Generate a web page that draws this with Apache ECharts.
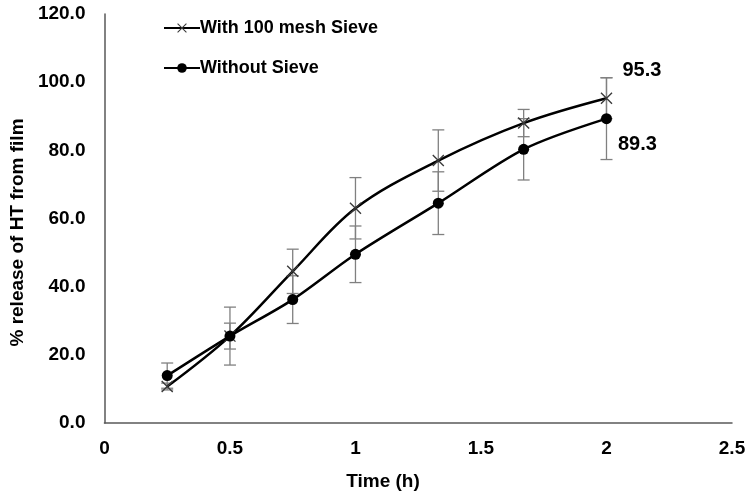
<!DOCTYPE html>
<html>
<head>
<meta charset="utf-8">
<script src="https://cdn.jsdelivr.net/npm/echarts@6/dist/echarts.min.js"></script>
<style>
html,body{margin:0;padding:0;background:#fff;}
#chart{width:750px;height:497px;}
</style>
</head>
<body>
<div id="chart"></div>
<script>
const times = [0.25, 0.5, 0.75, 1, 1.33, 1.67, 2];
const meshValues = [10.7, 25.5, 44.5, 63.0, 77.0, 88.0, 95.3];
const meshErrors = [1.0, 8.5, 6.5, 9.0, 9.0, 4.0, 6.0];
const noSieveValues = [13.9, 25.5, 36.2, 49.5, 64.5, 80.3, 89.3];
const noSieveErrors = [3.7, 3.8, 7.0, 8.3, 9.2, 9.0, 12.0];
const seriesNames = ['With 100 mesh Sieve', 'Without Sieve'];
const xTicks = [0, 0.5, 1, 1.5, 2, 2.5];
const yTicks = [0, 20, 40, 60, 80, 100, 120];

const font = '"Liberation Sans", Arial, sans-serif';
const chart = echarts.init(document.getElementById('chart'));

function pts(vals) { return times.map((t, i) => [t, vals[i]]); }
function errs(vals, e) { return times.map((t, i) => [t, vals[i] - e[i], vals[i] + e[i]]); }

function renderErr(params, api) {
  const x = api.value(0);
  const lo = api.coord([x, api.value(1)]);
  const hi = api.coord([x, api.value(2)]);
  const w = 6;
  const st = { stroke: '#808080', lineWidth: 1.3 };
  return {
    type: 'group',
    children: [
      { type: 'line', shape: { x1: lo[0], y1: lo[1], x2: hi[0], y2: hi[1] }, style: st },
      { type: 'line', shape: { x1: lo[0] - w, y1: lo[1], x2: lo[0] + w, y2: lo[1] }, style: st },
      { type: 'line', shape: { x1: hi[0] - w, y1: hi[1], x2: hi[0] + w, y2: hi[1] }, style: st }
    ]
  };
}

const xSymbol = 'path://M0,0.8 L0.8,0 L10,9.2 L9.2,10 Z M9.2,0 L10,0.8 L0.8,10 L0,9.2 Z';
const numLabel = { fontFamily: font, fontWeight: 'bold', fontSize: 20, color: '#000' };

const meshData = pts(meshValues).map((p, i, arr) => i === arr.length - 1 ? {
  value: p,
  label: Object.assign({ show: true, position: 'right', offset: [5, -28], formatter: meshValues[i].toFixed(1) }, numLabel)
} : p);
const noData = pts(noSieveValues).map((p, i, arr) => i === arr.length - 1 ? {
  value: p,
  label: Object.assign({ show: true, position: 'right', offset: [1, 26], formatter: noSieveValues[i].toFixed(1) }, numLabel)
} : p);

chart.setOption({
  animation: false,
  backgroundColor: '#fff',
  grid: { left: 101, right: 18, top: 14, bottom: 74, containLabel: false },
  legend: {
    data: seriesNames,
    orient: 'vertical',
    left: 158, top: 14,
    itemWidth: 36, itemHeight: 12,
    itemGap: 22,
    textStyle: { fontFamily: font, fontWeight: 'bold', fontSize: 18, color: '#000', padding: [0, 0, 0, -5] }
  },
  xAxis: {
    type: 'value', min: 0, max: 2.5, interval: 0.5,
    axisLine: { show: true, lineStyle: { color: '#595959', width: 1.5 } },
    axisTick: { show: false },
    splitLine: { show: false },
    axisLabel: { fontFamily: font, fontWeight: 'bold', fontSize: 19, color: '#000', margin: 16,
      formatter: v => String(xTicks.find(t => Math.abs(t - v) < 1e-9) ?? v) }
  },
  yAxis: {
    type: 'value', min: 0, max: 120, interval: 20,
    name: '% release of HT from film',
    nameLocation: 'middle', nameGap: 73,
    nameTextStyle: { fontFamily: font, fontWeight: 'bold', fontSize: 19, color: '#000', padding: [0, 28, 0, 0] },
    axisLine: { show: true, lineStyle: { color: '#595959', width: 1.5 } },
    axisTick: { show: false },
    splitLine: { show: false },
    axisLabel: { fontFamily: font, fontWeight: 'bold', fontSize: 19, color: '#000', margin: 19,
      formatter: v => (yTicks.find(t => Math.abs(t - v) < 1e-9) ?? v).toFixed(1) }
  },
  graphic: [{
    type: 'text', x: 383, y: 482,
    style: { text: 'Time (h)', font: 'bold 19px ' + font, fill: '#000', align: 'center', verticalAlign: 'middle' }
  }],
  series: [
    { type: 'custom', name: 'err1', renderItem: renderErr, data: errs(meshValues, meshErrors),
      encode: { x: 0, y: [1, 2] }, z: 1, silent: true },
    { type: 'custom', name: 'err2', renderItem: renderErr, data: errs(noSieveValues, noSieveErrors),
      encode: { x: 0, y: [1, 2] }, z: 1, silent: true },
    {
      type: 'line', name: seriesNames[0], data: meshData, smooth: 0.35,
      symbol: xSymbol, symbolSize: 12, showAllSymbol: true,
      lineStyle: { color: '#000', width: 2.5 },
      itemStyle: { color: '#3a3a3a' }, z: 3
    },
    {
      type: 'line', name: seriesNames[1], data: noData, smooth: 0.3,
      symbol: 'circle', symbolSize: 11, showAllSymbol: true,
      lineStyle: { color: '#000', width: 2.5 },
      itemStyle: { color: '#000' }, z: 4
    }
  ]
});
</script>
</body>
</html>
